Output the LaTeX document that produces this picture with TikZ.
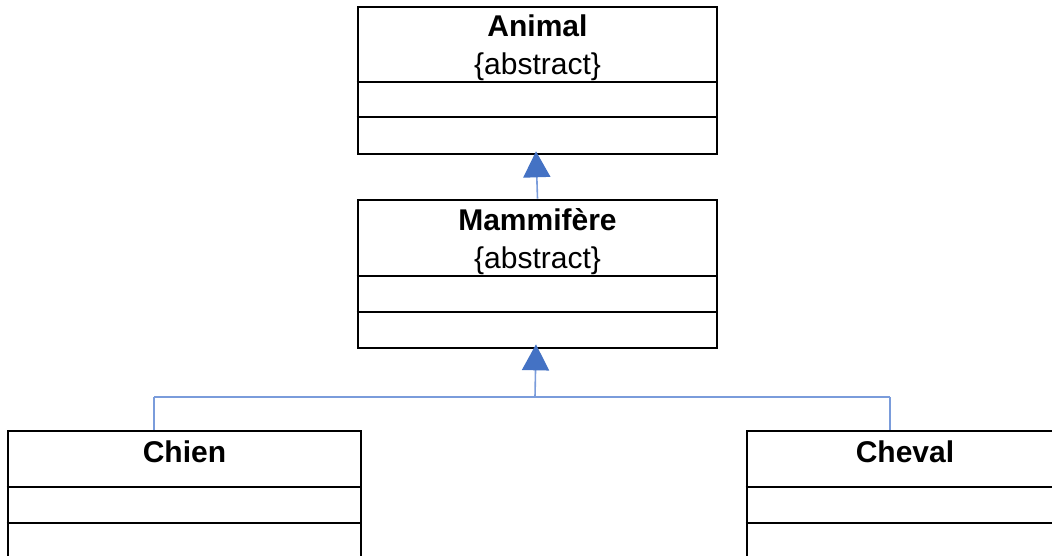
\documentclass[tikz,border=0pt]{standalone}
\usepackage{fontspec}
\setmainfont{Liberation Sans}
\usetikzlibrary{arrows.meta}
\definecolor{linkblue}{HTML}{4472C4}
\definecolor{linklight}{HTML}{7A9CDB}
\tikzset{
  classbox/.style={draw=black, line width=2.6pt, rectangle, inner sep=0pt},
  divider/.style={draw=black, line width=2.6pt},
  title/.style={anchor=base, inner sep=0pt, font=\fontsize{30}{36}\selectfont\bfseries},
  tag/.style={anchor=base, inner sep=0pt, font=\fontsize{30}{36}\selectfont},
  conn/.style={draw=linklight, line width=1.6pt},
  inherit/.style={conn, -{Triangle[width=27pt,length=26pt,fill=linkblue,color=linkblue]}}
}
\begin{document}
\begin{tikzpicture}[x=1pt,y=-1pt]
  \useasboundingbox (0,0) rectangle (1052,556);
  \fill[white] (0,0) rectangle (1052,556);
  \clip (0,0) rectangle (1052,556);

  % class boxes
  \node[classbox, minimum width=359pt, minimum height=147pt] (animal) at (537.5,80.5) {};
  \node[classbox, minimum width=359pt, minimum height=148pt] (mamm) at (537.5,274) {};
  \node[classbox, minimum width=353pt, minimum height=150pt] (chien) at (184.5,506) {};
  \node[classbox, minimum width=316pt, minimum height=150pt] (cheval) at (905,506) {};

  % compartment separators
  \draw[divider] (animal.west |- 0,82) -- (animal.east |- 0,82);
  \draw[divider] (animal.west |- 0,117) -- (animal.east |- 0,117);
  \draw[divider] (mamm.west |- 0,276) -- (mamm.east |- 0,276);
  \draw[divider] (mamm.west |- 0,312) -- (mamm.east |- 0,312);
  \draw[divider] (chien.west |- 0,487) -- (chien.east |- 0,487);
  \draw[divider] (chien.west |- 0,523) -- (chien.east |- 0,523);
  \draw[divider] (cheval.west |- 0,487) -- (cheval.east |- 0,487);
  \draw[divider] (cheval.west |- 0,523) -- (cheval.east |- 0,523);

  % class names
  \node[title] (tAnimal) at (537.5,37) {Animal};
  \node[tag] (aAnimal) at (537.5,75) {\{abstract\}};
  \node[title] (tMamm) at (537.5,231) {Mammifère};
  \node[tag] (aMamm) at (537.5,268) {\{abstract\}};
  \node[title] (tChien) at (184.5,462) {Chien};
  \node[title] (tCheval) at (905,462) {Cheval};

  % inheritance links
  \coordinate (jl) at (154,397);
  \coordinate (jr) at (890,397);
  \coordinate (jm) at (535,397);
  \draw[inherit] (mamm.north) -- ([yshift=4pt]animal.south -| 536,0);
  \draw[conn] (jl) -- (jr);
  \draw[conn] (jl) -- (jl |- chien.north);
  \draw[conn] (jr) -- (jr |- cheval.north);
  \draw[inherit] (jm) -- ([yshift=5pt]mamm.south -| 536,0);
\end{tikzpicture}
\end{document}
